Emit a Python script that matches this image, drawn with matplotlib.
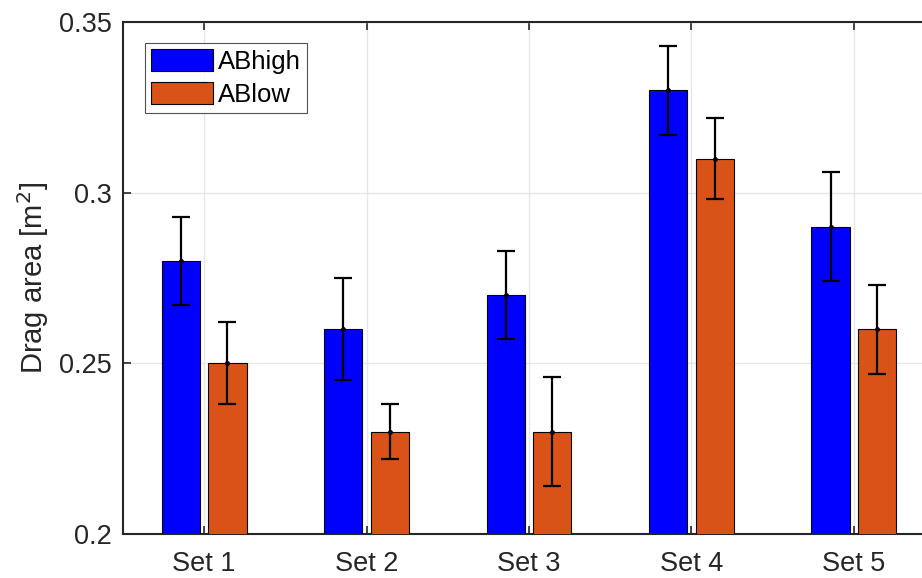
import numpy as np
import matplotlib
matplotlib.use("Agg")
import matplotlib.pyplot as plt

plt.rcParams['font.family'] = ['Liberation Sans', 'DejaVu Sans']

categories = ["Set 1", "Set 2", "Set 3", "Set 4", "Set 5"]
ab_high = [0.28, 0.26, 0.27, 0.33, 0.29]
ab_high_err = [0.013, 0.015, 0.013, 0.013, 0.016]
ab_low = [0.25, 0.23, 0.23, 0.31, 0.26]
ab_low_err = [0.012, 0.008, 0.016, 0.012, 0.013]
series_names = ["ABhigh", "ABlow"]
y_ticks = [0.2, 0.25, 0.3, 0.35]
y_tick_labels = ["0.2", "0.25", "0.3", "0.35"]

blue = "#0000FF"
orange = "#D95319"
ink = "#262626"

fig = plt.figure(figsize=(9.22, 5.78), dpi=100)
ax = fig.add_axes([123 / 922, 44 / 578, 812 / 922, 512 / 578])

x = np.arange(1, len(categories) + 1)
offset = 0.143
width = 0.235

ax.bar(x - offset, ab_high, width, bottom=0, color=blue, edgecolor="black",
       linewidth=0.8, label=series_names[0], zorder=3)
ax.bar(x + offset, ab_low, width, bottom=0, color=orange, edgecolor="black",
       linewidth=0.8, label=series_names[1], zorder=3)

err_style = dict(fmt='o', color='black', markersize=2.5, elinewidth=1.6,
                 capsize=6.5, capthick=1.6, zorder=4)
ax.errorbar(x - offset, ab_high, yerr=ab_high_err, **err_style)
ax.errorbar(x + offset, ab_low, yerr=ab_low_err, **err_style)

ax.set_xlim(0.5, 5.5)
ax.set_ylim(0.2, 0.35)
ax.set_xticks(x)
ax.set_xticklabels(categories)
ax.set_yticks(y_ticks)
ax.set_yticklabels(y_tick_labels)
ax.set_ylabel("Drag area [m$^2$]", fontsize=21, color=ink, labelpad=6)

ax.grid(True, color="#e6e6e6", linewidth=1, zorder=0)
ax.set_axisbelow(True)
for side in ["left", "bottom", "top", "right"]:
    ax.spines[side].set_color(ink)
    ax.spines[side].set_linewidth(1.5)
ax.tick_params(axis='both', direction='in', length=6, width=1.2,
               colors=ink, labelsize=19.5, top=True, right=True)
ax.tick_params(axis='y', pad=8)
ax.tick_params(axis='x', pad=12)

leg = ax.legend(loc="upper left", bbox_to_anchor=(0.027, 0.959), fontsize=18.5,
                frameon=True, fancybox=False, edgecolor=ink,
                handlelength=2.41, handleheight=0.97, handletextpad=0.2,
                labelspacing=0.3, borderpad=0.23, borderaxespad=0)
leg.get_frame().set_linewidth(0.8)

fig.savefig("out.png", dpi=100)
